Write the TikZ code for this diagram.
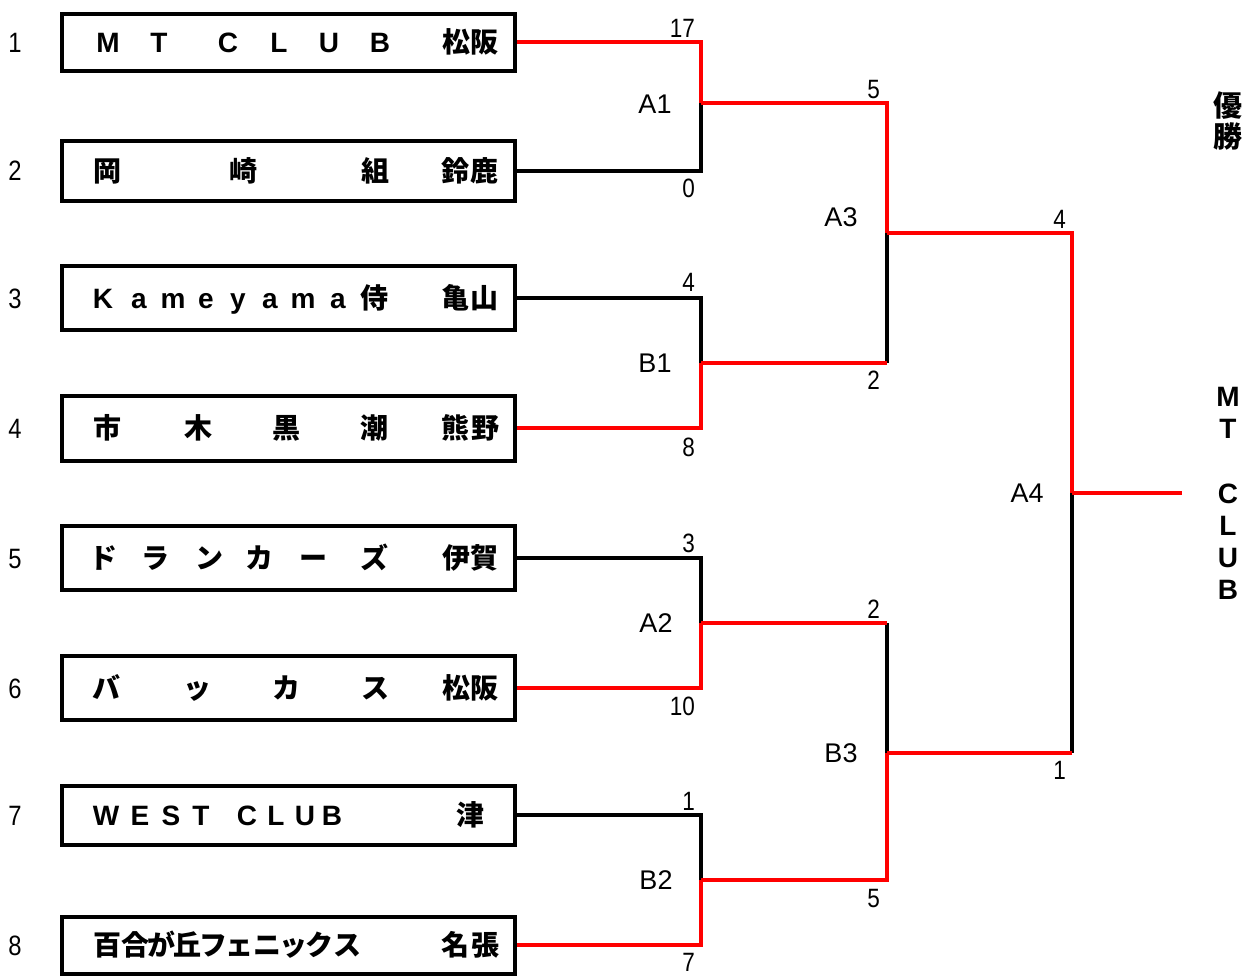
\documentclass[tikz,border=0pt]{standalone}
\usepackage{fontspec}
\newfontfamily\jp{Noto Sans CJK JP}
\newfontfamily\lat{Liberation Sans}
\newfontfamily\numf[FakeStretch=0.85]{Liberation Sans}
\newcommand\Cx[2]{\rlap{\hskip\dimexpr#1pt-288.5pt\relax\makebox[0pt]{#2}}}
\begin{document}
\begin{tikzpicture}[x=1pt,y=-1pt,
  teambox/.style={draw,line width=4pt,minimum width=453pt,inner sep=0pt,text height=21pt,text depth=0pt,font=\bfseries\fontsize{28}{28}\selectfont},
  rownum/.style={font=\numf\fontsize{28}{28}\selectfont,inner sep=0pt,text height=20pt,text depth=0pt},
  score/.style={font=\numf\fontsize{26.5}{26.5}\selectfont,inner sep=0pt,text height=19pt,text depth=0pt,anchor=east},
  match/.style={font=\lat\fontsize{27}{27}\selectfont,inner sep=0pt,text height=19.3pt,text depth=0pt},
  win/.style={draw=red,line width=4.4pt},
  lose/.style={draw=black,line width=4.4pt},
]
\useasboundingbox[fill=white] (0,0) rectangle (1247,978);

% row numbers
\node[rownum] (n1) at (15,42) {1};
\node[rownum] (n2) at (15,170) {2};
\node[rownum] (n3) at (15,298) {3};
\node[rownum] (n4) at (15,428) {4};
\node[rownum] (n5) at (15,558) {5};
\node[rownum] (n6) at (15,688) {6};
\node[rownum] (n7) at (15,815) {7};
\node[rownum] (n8) at (15,945) {8};

% teams
\node[teambox,minimum height=57pt] (t1) at (288.5,42) {\lat\Cx{108}{M}\Cx{159}{T}\Cx{228}{C}\Cx{279}{L}\Cx{329}{U}\Cx{380}{B}\jp\Cx{456}{松}\Cx{485}{阪}};
\node[teambox,minimum height=60pt] (t2) at (288.5,171) {\jp\Cx{107}{岡}\Cx{243}{崎}\Cx{375}{組}\Cx{456}{鈴}\Cx{485}{鹿}};
\node[teambox,minimum height=64pt] (t3) at (288.5,298) {\lat\Cx{103}{K}\Cx{139}{a}\Cx{173}{m}\Cx{206}{e}\Cx{238}{y}\Cx{270}{a}\Cx{303}{m}\Cx{338}{a}\jp\Cx{374}{侍}\Cx{456}{亀}\Cx{485}{山}};
\node[teambox,minimum height=65pt] (t4) at (288.5,428) {\jp\Cx{107}{市}\Cx{199}{木}\Cx{287}{黒}\Cx{375}{潮}\Cx{456}{熊}\Cx{485}{野}};
\node[teambox,minimum height=64pt] (t5) at (288.5,558) {\jp\Cx{103}{ド}\Cx{156}{ラ}\Cx{210}{ン}\Cx{260}{カ}\Cx{314}{ー}\Cx{375}{ズ}\Cx{456}{伊}\Cx{485}{賀}};
\node[teambox,minimum height=64pt] (t6) at (288.5,688) {\jp\Cx{106}{バ}\Cx{198}{ッ}\Cx{287}{カ}\Cx{375}{ス}\Cx{456}{松}\Cx{485}{阪}};
\node[teambox,minimum height=59pt] (t7) at (288.5,815) {\lat\Cx{106}{W}\Cx{140}{E}\Cx{171}{S}\Cx{201}{T}\Cx{247}{C}\Cx{276}{L}\Cx{305}{U}\Cx{332}{B}\jp\Cx{470}{津}};
\node[teambox,minimum height=57pt] (t8) at (288.5,945) {\jp\Cx{107}{百}\Cx{135}{合}\Cx{161}{が}\Cx{187}{丘}\Cx{213}{フ}\Cx{239}{ェ}\Cx{267}{ニ}\Cx{293}{ッ}\Cx{319}{ク}\Cx{347}{ス}\Cx{456}{名}\Cx{485}{張}};

% junctions
\coordinate (a1) at (701,103);
\coordinate (b1) at (701,363);
\coordinate (a2) at (701,623);
\coordinate (b2) at (701,880);
\coordinate (a3) at (887,233);
\coordinate (b3) at (887,753);
\coordinate (a4) at (1072,493);
\coordinate (fin) at (1182,493);

% losing lines
\draw[lose] (t2.east) -| (a1);
\draw[lose] (t3.east) -| (b1);
\draw[lose] (t5.east) -| (a2);
\draw[lose] (t7.east) -| (b2);
\draw[lose] (b1 -| a3) -- (a3);
\draw[lose] (a2 -| b3) -- (b3);
\draw[lose] (b3 -| a4) -- (a4);
% winning lines
\draw[win] (t1.east) -| (a1);
\draw[win] (t4.east) -| (b1);
\draw[win] (t6.east) -| (a2);
\draw[win] (t8.east) -| (b2);
\draw[win] (a1) -| (a3);
\draw[win] (b1) -- (b1 -| a3);
\draw[win] (a2) -- (a2 -| b3);
\draw[win] (b2) -| (b3);
\draw[win] (a3) -| (a4);
\draw[win] (b3) -- (b3 -| a4);
\draw[win] (a4) -- (fin);

% scores
\node[score] (s1) at (695,28) {17};
\node[score] (s2) at (695,188) {0};
\node[score] (s3) at (695,282) {4};
\node[score] (s4) at (695,447) {8};
\node[score] (s5) at (695,543) {3};
\node[score] (s6) at (695,706) {10};
\node[score] (s7) at (695,801) {1};
\node[score] (s8) at (695,962) {7};
\node[score] (s9) at (880,89) {5};
\node[score] (s10) at (880,380) {2};
\node[score] (s11) at (880,609) {2};
\node[score] (s12) at (880,898) {5};
\node[score] (s13) at (1066,219) {4};
\node[score] (s14) at (1066,770) {1};

% match labels
\node[match] (m1) at (655,104) {A1};
\node[match] (m2) at (655,363) {B1};
\node[match] (m3) at (656,623) {A2};
\node[match] (m4) at (656,880) {B2};
\node[match] (m5) at (841,217) {A3};
\node[match] (m6) at (841,753) {B3};
\node[match] (m7) at (1027,493) {A4};

% champion
\node[font=\jp\bfseries\fontsize{29}{31}\selectfont,align=center,inner sep=0pt] (champ) at (1228,120.5) {優\\勝};
\node[font=\lat\bfseries\fontsize{28}{32.17}\selectfont,align=center,inner sep=0pt] (winner) at (1228,493.5) {M\\T\\[32.17pt]C\\L\\U\\B};
\end{tikzpicture}
\end{document}
